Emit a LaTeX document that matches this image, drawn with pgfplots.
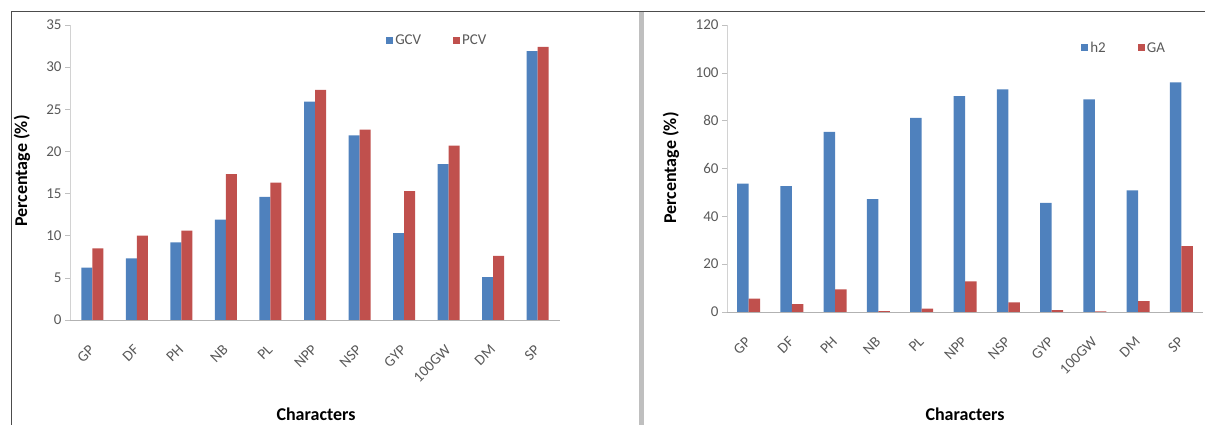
\documentclass[border=0pt]{standalone}
\usepackage{fontspec}
\setmainfont{Carlito}
\usepackage{pgfplots}
\pgfplotsset{compat=1.18}
\definecolor{cblue}{HTML}{4F81BD}
\definecolor{cred}{HTML}{C0504D}
\definecolor{tickgray}{HTML}{595959}
\newcommand\tickfont{\fontsize{15}{15}\selectfont}
\newcommand\titlefont{\fontsize{18}{18}\selectfont\bfseries}
\pgfplotsset{
  mybars/.style={
    scale only axis,
    ybar=0pt,
    bar width=11pt,
    xmin=-0.5, xmax=10.5, ymin=0,
    enlargelimits=false,
    xtick={0,...,10},
    xticklabels={GP,DF,PH,NB,PL,NPP,NSP,GYP,100GW,DM,SP},
    axis x line*=bottom, axis y line*=left,
    x axis line style={draw=gray!60, line width=0.9pt},
    y axis line style={draw=gray!35, line width=0.6pt},
    x tick style={draw=none},
    y tick style={draw=gray!50, line width=0.6pt},
    tick align=outside,
    major tick length=5pt,
    ticklabel style={font=\tickfont, text=tickgray},
    xticklabel style={anchor=east, xshift=2pt, yshift=-20pt, rotate=45},
    /pgf/number format/assume math mode=true,
    legend style={draw=none, fill=none, font=\tickfont, text=tickgray,
      legend columns=2, inner sep=0pt,
      /tikz/every even column/.append style={column sep=30pt},
      legend cell align=left},
    legend image code/.code={\fill[##1] (0pt,-3.5pt) rectangle (7pt,3.5pt);},
  }
}
\begin{document}
\begin{tikzpicture}[x=1pt,y=1pt]
\useasboundingbox (0,0) rectangle (1205,425);
\draw[black!70, line width=1pt] (11,413) -- (1205,413);
\draw[black!70, line width=1pt] (11,0) -- (11,413);
\fill[gray!50] (638.5,0) rectangle (643.5,413);

\begin{axis}[mybars,
  at={(70pt,105pt)}, anchor=south west,
  width=490pt, height=295pt,
  ymax=35, ytick={0,5,...,35},
  legend style={at={(axis description cs:0.645,0.949)}, anchor=west},
]
\addplot[fill=cblue, draw=none] coordinates {(0,6.2) (1,7.3) (2,9.2) (3,11.9) (4,14.6) (5,25.9) (6,21.9) (7,10.3) (8,18.5) (9,5.1) (10,31.9)};
\addplot[fill=cred, draw=none] coordinates {(0,8.5) (1,10.0) (2,10.6) (3,17.3) (4,16.3) (5,27.3) (6,22.6) (7,15.3) (8,20.7) (9,7.6) (10,32.4)};
\legend{GCV,PCV}
\end{axis}

\begin{axis}[mybars,
  at={(727pt,113pt)}, anchor=south west,
  width=476pt, height=287pt,
  bar width=11.5pt,
  ymax=120, ytick={0,20,...,120},
  legend style={at={(axis description cs:0.744,0.92)}, anchor=west},
]
\addplot[fill=cblue, draw=none] coordinates {(0,53.7) (1,52.6) (2,75.3) (3,47.2) (4,81.2) (5,90.3) (6,93.1) (7,45.6) (8,88.9) (9,50.9) (10,96.0)};
\addplot[fill=cred, draw=none] coordinates {(0,5.6) (1,3.3) (2,9.5) (3,0.4) (4,1.4) (5,12.8) (6,4.0) (7,0.8) (8,0.3) (9,4.5) (10,27.5)};
\legend{h2,GA}
\end{axis}

\node[font=\titlefont, rotate=90] at (22,254) {Percentage (\%)};
\node[font=\titlefont, rotate=90] at (671,257) {Percentage (\%)};
\node[font=\titlefont] at (316,11) {Characters};
\node[font=\titlefont] at (965,11) {Characters};
\end{tikzpicture}
\end{document}
